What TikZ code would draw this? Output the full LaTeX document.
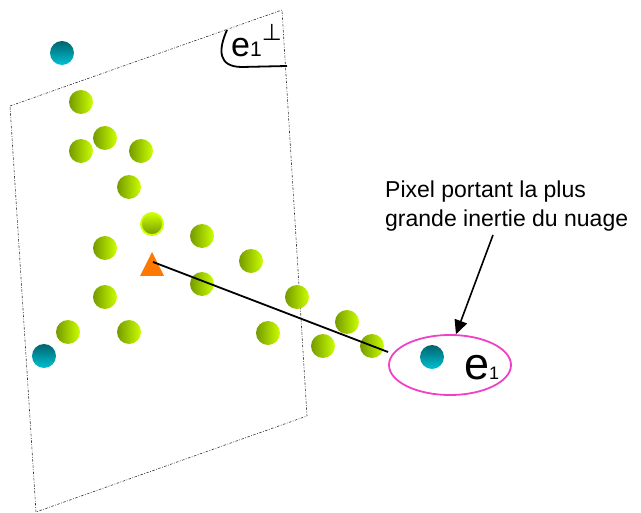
\documentclass[tikz,border=0pt]{standalone}
\usepackage{fontspec}
\setmainfont{Liberation Sans}
\newfontfamily\dejavu{DejaVu Sans}
\usetikzlibrary{shapes.geometric,arrows.meta}
\definecolor{gdark}{HTML}{749A00}
\definecolor{gmid}{HTML}{A8D400}
\definecolor{glight}{HTML}{CCFF00}
\definecolor{tdark}{HTML}{00646E}
\definecolor{tlight}{HTML}{00C0D2}
\definecolor{orangetri}{HTML}{FF7800}
\definecolor{pinkell}{HTML}{F040C8}
\tikzset{
  greenball/.style={circle, minimum size=24pt, inner sep=0pt, left color=gdark, middle color=gmid, right color=glight},
  hiball/.style={circle, minimum size=22pt, inner sep=0pt, draw=glight, line width=1.8pt, shading=axis, shading angle=135, top color=glight, bottom color=gdark},
  tealball/.style={circle, minimum size=24pt, inner sep=0pt, shading=axis, shading angle=135, top color=tdark, bottom color=tlight},
  planeline/.style={black!80, line width=0.6pt, dash pattern=on 2.5pt off 1.5pt on 0.8pt off 1.5pt},
}
\begin{document}
\begin{tikzpicture}[x=1pt,y=-1pt]
\useasboundingbox (0,0) rectangle (641,513);
% plane
\coordinate (p1) at (10,106);
\coordinate (p2) at (282,10);
\coordinate (p3) at (307,416);
\coordinate (p4) at (36,512);
\draw[planeline] (p1) -- (p2) -- (p3) -- (p4) -- cycle;
% e1 perp label with bracket
\coordinate (b1) at (227,30);
\coordinate (b2) at (287,66);
\draw[line width=1.8pt] (b1) .. controls (218,50) and (218,67) .. (242,67) -- (b2);
\node[inner sep=0pt, anchor=base west, font=\fontsize{34}{34}\selectfont] (eperp) at (231,57) {e\fontsize{21}{21}\selectfont 1\raisebox{0.8em}{\fontsize{23}{23}\selectfont\dejavu ⊥}};
% balls
\node[tealball] (t0) at (62,53) {};
\node[greenball] (g1) at (81,102) {};
\node[greenball] (g2) at (105,138) {};
\node[greenball] (g3) at (81,151) {};
\node[greenball] (g4) at (141,151) {};
\node[greenball] (g5) at (129,187) {};
\node[hiball] (g6) at (152,224) {};
\node[greenball] (g7) at (105,248) {};
\node[greenball] (g8) at (202,236) {};
\node[greenball] (g9) at (251,261) {};
\node[greenball] (g10) at (202,284) {};
\node[greenball] (g11) at (105,297) {};
\node[greenball] (g12) at (297,297) {};
\node[greenball] (g13) at (68,332) {};
\node[greenball] (g14) at (129,332) {};
\node[greenball] (g15) at (347,322) {};
\node[greenball] (g16) at (268,333) {};
\node[greenball] (g17) at (323,346) {};
\node[greenball] (g18) at (372,346) {};
\node[tealball] (t1) at (44,356) {};
% triangle
\fill[orangetri] (152,252) -- (164,276) -- (140,276) -- cycle;
\coordinate (tri) at (153,262);
% line
\coordinate (lend) at (388,352);
\draw[line width=1.8pt] (tri) -- (lend);
% e1 ellipse and ball
\node[tealball] (t2) at (432,357) {};
\node[ellipse, draw=pinkell, line width=1.8pt, minimum width=122pt, minimum height=60pt, inner sep=0pt] (ell) at (450,365) {};
\node[inner sep=0pt, anchor=base west, font=\fontsize{45}{45}\selectfont] (e1) at (464,380) {e\fontsize{18}{18}\selectfont 1};
% text and arrow
\node[align=left, anchor=base west, inner sep=0pt, font=\fontsize{23}{28.5}\selectfont] (txt) at (385,226.5) {Pixel portant la plus\\grande inertie du nuage};
\coordinate (astart) at (493,235);
\draw[line width=1.6pt, -{Triangle[length=14pt,width=13pt]}] (astart) -- (ell.79);
\end{tikzpicture}
\end{document}
